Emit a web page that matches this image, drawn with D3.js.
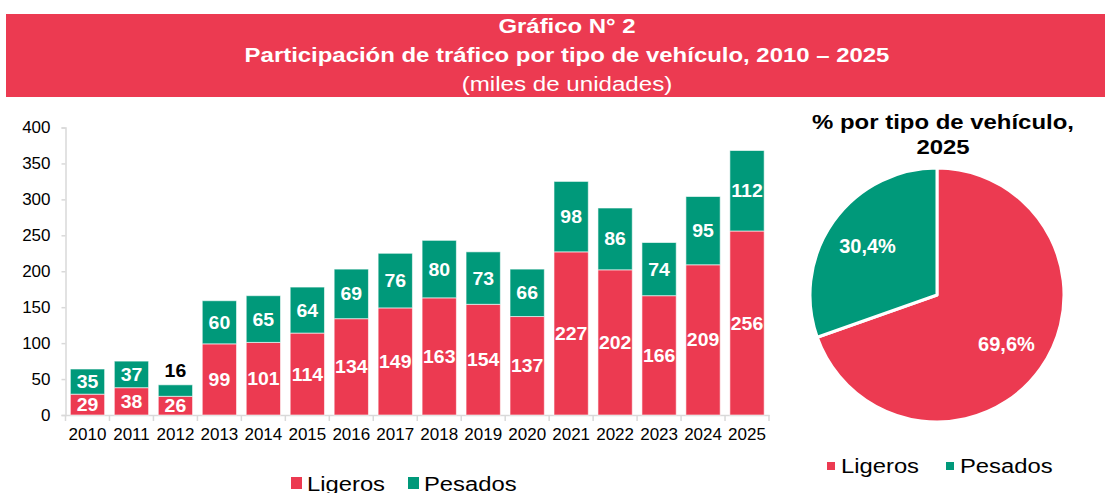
<!DOCTYPE html>
<html lang='es'>
<head>
<meta http-equiv='Content-Type' content='text/html;charset=utf-8'/>
<title>Gráfico N° 2</title>
<script src='https://d3js.org/d3.v7.min.js'></script>
<style>
  body { margin: 0; background: #fff; }
  text { font-family: 'Liberation Sans', Arial, sans-serif; }
</style>
</head>
<body>
<script>
'use strict'
// datos (miles de unidades)
const years = ['2010','2011','2012','2013','2014','2015','2016','2017','2018','2019','2020','2021','2022','2023','2024','2025']
const ligeros = [29, 38, 26, 99, 101, 114, 134, 149, 163, 154, 137, 227, 202, 166, 209, 256]
const pesados = [35, 37, 16, 60, 65, 64, 69, 76, 80, 73, 66, 98, 86, 74, 95, 112]
const yTicks = [0, 50, 100, 150, 200, 250, 300, 350, 400]
const seriesNames = ['Ligeros', 'Pesados']
const pieShares = [69.6, 30.4]

const RED = '#EC3A51'
const GREEN = '#00997A'
const AXIS = '#d9d9d9'

const W = 1113, H = 493
const svg = d3.select('body').append('svg')
  .attr('width', W)
  .attr('height', H)

// texto con estiramiento horizontal (el original está algo ensanchado)
function stretched(g, px, py, str, size, sx, opts) {
  opts = opts || {}
  return g.append('text')
    .attr('transform', `translate(${px},${py}) scale(${sx},1)`)
    .attr('text-anchor', opts.anchor || 'middle')
    .attr('font-size', size)
    .attr('font-weight', opts.bold ? 'bold' : 'normal')
    .attr('fill', opts.fill || '#000')
    .text(str)
}

// banner
svg.append('rect')
  .attr('x', 6).attr('y', 14)
  .attr('width', 1099).attr('height', 83)
  .attr('fill', RED)

const tx = 567
stretched(svg, tx, 33, 'Gráfico N° 2', 21, 1.14, { bold: true, fill: '#fff' })
stretched(svg, tx, 62, 'Participación de tráfico por tipo de vehículo, 2010 – 2025', 21, 1.14, { bold: true, fill: '#fff' })
stretched(svg, tx, 91, '(miles de unidades)', 21, 1.15, { fill: '#fff' })

// ---- barras apiladas ----
const x = d3.scaleBand()
  .domain(years)
  .range([65.5, 769])
  .paddingInner(0.22)
  .paddingOuter(0.11)

const y = d3.scaleLinear()
  .domain([0, 400])
  .range([415, 127.5])

const rows = years.map((yr, i) => ({ year: yr, Ligeros: ligeros[i], Pesados: pesados[i] }))
const stack = d3.stack().keys(seriesNames)(rows)
const color = d3.scaleOrdinal().domain(seriesNames).range([RED, GREEN])

// eje y
const yAxis = svg.append('g')
  .attr('transform', 'translate(65.5,0)')
  .call(d3.axisLeft(y).tickValues(yTicks).tickSize(4).tickPadding(11))
yAxis.select('.domain').attr('stroke', AXIS).attr('stroke-width', 1.5)
yAxis.selectAll('.tick line').attr('stroke', AXIS).attr('stroke-width', 1.5)
yAxis.selectAll('.tick text')
  .attr('font-size', 17).attr('fill', '#000')
  .attr('font-family', "'Liberation Sans', Arial, sans-serif")

// eje x
const xAxis = svg.append('g')
  .attr('transform', 'translate(0,415)')
  .call(d3.axisBottom(x).tickSize(0).tickPadding(13))
xAxis.select('.domain').attr('stroke', AXIS).attr('stroke-width', 1.5)
xAxis.selectAll('.tick text')
  .attr('font-size', 17).attr('fill', '#000')
  .attr('font-family', "'Liberation Sans', Arial, sans-serif")

// marcas entre categorías
const gap = (x.step() - x.bandwidth()) / 2
const edges = years.map(d => x(d) - gap).concat([x(years[years.length - 1]) + x.bandwidth() + gap])
svg.append('g').selectAll('line')
  .data(edges)
  .join('line')
  .attr('x1', d => d).attr('x2', d => d)
  .attr('y1', 415).attr('y2', 421)
  .attr('stroke', AXIS).attr('stroke-width', 1.5)

const layers = svg.append('g').selectAll('g')
  .data(stack)
  .join('g')
  .attr('fill', d => color(d.key))

layers.selectAll('rect')
  .data(d => d)
  .join('rect')
  .attr('x', d => x(d.data.year))
  .attr('y', d => y(d[1]))
  .attr('width', x.bandwidth())
  .attr('height', d => y(d[0]) - y(d[1]))
  .attr('stroke', '#fff')
  .attr('stroke-opacity', 0.6)
  .attr('stroke-width', 1)

// etiquetas de valores: los segmentos muy bajos llevan la etiqueta encima
const tiny = d => (y(d[0]) - y(d[1])) < 15
const labels = svg.append('g')
stack.forEach(layer => {
  layer.forEach(d => {
    const cxb = x(d.data.year) + x.bandwidth() / 2
    const py = tiny(d) ? y(d[1]) - 8 : (y(d[0]) + y(d[1])) / 2 + 6.5
    stretched(labels, cxb, py, d[1] - d[0], 18, 1.08,
      { bold: true, fill: tiny(d) ? '#000' : '#fff' })
  })
})

// leyenda barras
const leg = svg.append('g')
const legX = [291, 408]
seriesNames.forEach((s, i) => {
  leg.append('rect')
    .attr('x', legX[i]).attr('y', 477)
    .attr('width', 11).attr('height', 12)
    .attr('fill', color(s))
  stretched(leg, legX[i] + 16, 491, s, 20, 1.19, { anchor: 'start' })
})

// ---- torta 2025 ----
stretched(svg, 943, 129, '% por tipo de vehículo,', 21, 1.14, { bold: true })
stretched(svg, 943, 154, '2025', 21, 1.14, { bold: true })

const cx = 937, cy = 295, r = 127
const pie = d3.pie().sort(null).value(d => d.v)
const arcs = pie(seriesNames.map((s, i) => ({ name: s, v: pieShares[i] })))
const arc = d3.arc().innerRadius(0).outerRadius(r)
const pg = svg.append('g').attr('transform', `translate(${cx},${cy})`)
pg.selectAll('path')
  .data(arcs)
  .join('path')
  .attr('d', arc)
  .attr('fill', d => color(d.data.name))
  .attr('stroke', '#fff')
  .attr('stroke-width', 3)
  .attr('stroke-linejoin', 'round')

const labelPos = d3.arc().innerRadius(r * 0.67).outerRadius(r * 0.67)
pg.selectAll('text')
  .data(arcs)
  .join('text')
  .attr('transform', d => {
    const c = labelPos.centroid(d)
    return `translate(${c[0]},${c[1] + 7})`
  })
  .attr('text-anchor', 'middle')
  .attr('font-family', "'Open Sans', sans-serif")
  .attr('font-size', 20)
  .attr('font-weight', 'bold')
  .attr('fill', '#fff')
  .text(d => d3.format('.1f')(d.data.v).replace('.', ',') + '%')

// leyenda torta
const pleg = svg.append('g')
const plegX = [827, 946]
seriesNames.forEach((s, i) => {
  pleg.append('rect')
    .attr('x', plegX[i]).attr('y', 462)
    .attr('width', 8).attr('height', 8)
    .attr('fill', color(s))
  stretched(pleg, plegX[i] + 14, 473, s, 20, 1.19, { anchor: 'start' })
})
</script>
</body>
</html>
